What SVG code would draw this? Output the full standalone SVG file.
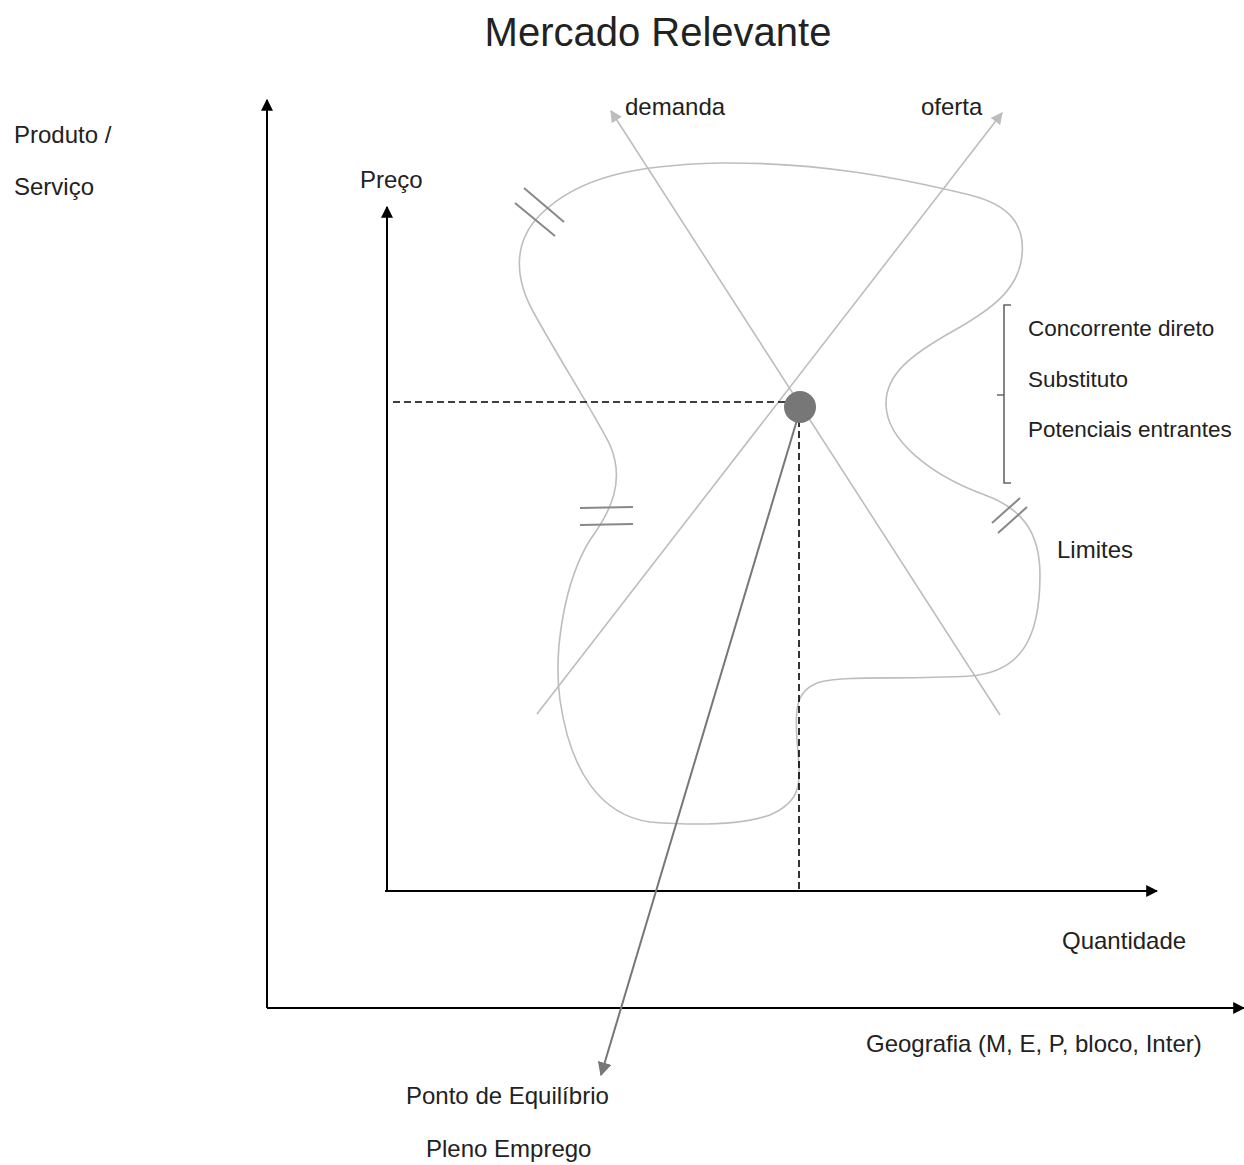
<svg xmlns="http://www.w3.org/2000/svg" width="1244" height="1165" viewBox="0 0 1244 1165">
<style>
text{font-family:"Liberation Sans",Arial,sans-serif;fill:#222;font-size:24px}
.title{font-size:40px;text-anchor:middle}
.list{font-size:22.5px}
.axis{stroke:#000;stroke-width:2;fill:none}
.curve{stroke:#bdbdbd;stroke-width:1.6;fill:none}
.hash{stroke:#888;stroke-width:2}
.dash{stroke:#000;stroke-width:1.6;stroke-dasharray:7,4;fill:none}
</style>
<defs>
<marker id="ab" viewBox="0 0 10 10" refX="9" refY="5" markerWidth="12" markerHeight="12" markerUnits="userSpaceOnUse" orient="auto"><path d="M0,0 L10,5 L0,10 z" fill="#000"/></marker>
<marker id="ag" viewBox="0 0 10 10" refX="9" refY="5" markerWidth="12" markerHeight="12" markerUnits="userSpaceOnUse" orient="auto"><path d="M0,0 L10,5 L0,10 z" fill="#bdbdbd"/></marker>
<marker id="ad" viewBox="0 0 10 10" refX="9" refY="5" markerWidth="14" markerHeight="14" markerUnits="userSpaceOnUse" orient="auto"><path d="M0,0 L10,5 L0,10 z" fill="#777"/></marker>
</defs>
<text class="title" x="658" y="46">Mercado Relevante</text>
<g id="connectors">
<line class="axis" x1="267" y1="1008" x2="267" y2="100" marker-end="url(#ab)"/>
<line class="axis" x1="267" y1="1008" x2="1244" y2="1008" marker-end="url(#ab)"/>
<line class="axis" x1="387" y1="891" x2="387" y2="207" marker-end="url(#ab)"/>
<line class="axis" x1="385" y1="891" x2="1157" y2="891" marker-end="url(#ab)"/>
<path id="limites" class="curve" d="M 540 215 C 580 175, 640 165, 720 163 C 820 162, 900 178, 970 195 C 1010 205, 1025 225, 1022 255 C 1019 290, 990 310, 955 330 C 910 355, 885 375, 886 405 C 887 440, 930 475, 985 495 C 1020 508, 1040 530, 1040 575 C 1040 640, 1020 672, 970 676 C 900 680, 850 675, 820 682 C 795 690, 795 710, 797 740 C 800 780, 805 800, 770 815 C 740 825, 700 826, 650 822 C 600 815, 570 770, 560 700 C 553 650, 565 580, 590 540 C 612 510, 625 480, 610 445 C 595 415, 560 360, 535 315 C 512 275, 515 240, 540 215 Z"/>
<line class="hash" x1="515" y1="203" x2="555" y2="236"/>
<line class="hash" x1="524" y1="188" x2="564" y2="222"/>
<line class="hash" x1="580" y1="508" x2="633" y2="507"/>
<line class="hash" x1="580" y1="525" x2="633" y2="524"/>
<line class="hash" x1="992" y1="523" x2="1020" y2="498"/>
<line class="hash" x1="998" y1="533" x2="1027" y2="507"/>
<line class="curve" x1="1000" y1="715" x2="611" y2="111" marker-end="url(#ag)"/>
<line class="curve" x1="537" y1="714" x2="1002" y2="113" marker-end="url(#ag)"/>
<line class="dash" x1="393" y1="402" x2="790" y2="402"/>
<line class="dash" x1="799" y1="420" x2="799" y2="890"/>
<line x1="800" y1="410" x2="601" y2="1075" stroke="#777" stroke-width="2" marker-end="url(#ad)"/>
<path d="M1011 305 H1004 V483 H1011 M1004 395 H997" stroke="#666" stroke-width="1.6" fill="none"/>
</g>
<g id="equilibrio"><circle cx="800" cy="407" r="16" fill="#777"/></g>
<g id="labels">
<text x="14" y="143">Produto /</text>
<text x="14" y="195">Serviço</text>
<text x="360" y="188">Preço</text>
<text x="625" y="115">demanda</text>
<text x="921" y="115">oferta</text>
<text class="list" x="1028" y="336">Concorrente direto</text>
<text class="list" x="1028" y="387">Substituto</text>
<text class="list" x="1028" y="437">Potenciais entrantes</text>
<text x="1057" y="558">Limites</text>
<text x="1062" y="949">Quantidade</text>
<text x="866" y="1052">Geografia (M, E, P, bloco, Inter)</text>
<text x="406" y="1104">Ponto de Equilíbrio</text>
<text x="426" y="1157">Pleno Emprego</text>
</g>
</svg>
